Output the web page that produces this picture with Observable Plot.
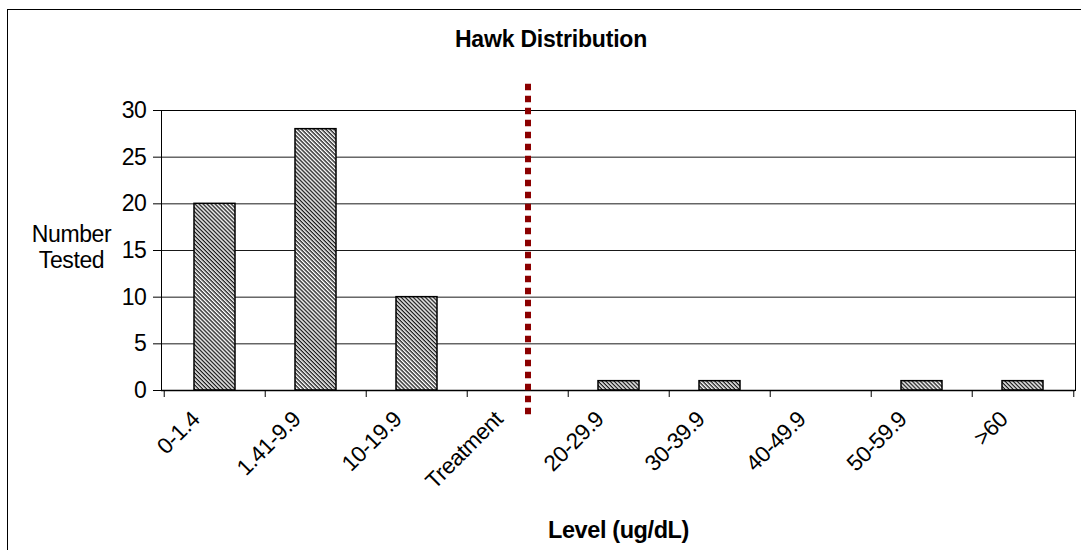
<!DOCTYPE html>
<html>
<head>
<meta charset="utf-8">
<script src="https://cdn.jsdelivr.net/npm/d3@7"></script>
<script src="https://cdn.jsdelivr.net/npm/@observablehq/plot@0.6"></script>
<style>
  html, body { margin: 0; padding: 0; background: #fff; }
  #chart { position: relative; width: 1081px; height: 550px; overflow: hidden; background: #fff;
           font-family: "Liberation Sans", Arial, sans-serif; color: #000; }
  #chart .border { position: absolute; left: 7px; top: 9px; width: 1200px; height: 700px;
                   border: 1.5px solid #000; box-sizing: border-box; }
  #chart .title { position: absolute; left: 8px; width: 1086px; top: 29px; text-align: center;
                  font-weight: bold; font-size: 23px; line-height: 21px; letter-spacing: -0.2px; }
  #chart svg { position: absolute; left: 0; top: 0; }
</style>
</head>
<body>
<div id="chart">
  <div class="border"></div>
  <div class="title"></div>
</div>
<script>
// Lead level bins and the number of hawks tested in each
const categories = ["0-1.4", "1.41-9.9", "10-19.9", "Treatment", "20-29.9", "30-39.9", "40-49.9", "50-59.9", ">60"];
const counts = [20, 28, 10, 0, 1, 1, 0, 1, 1];
const yTicks = [0, 5, 10, 15, 20, 25, 30];
const cutoffCategory = "Treatment";

const titleText = "Hawk Distribution";
const yLabel = "Number\nTested";
const xLabel = "Level (ug/dL)";

const data = categories.map((range, i) => ({range, count: counts[i]}));

const width = 1081, height = 550;
const marginLeft = 161, marginRight = 6, marginTop = 110, marginBottom = 160;
const step = (width - marginLeft - marginRight) / categories.length;

const svg = Plot.plot({
  width, height, marginLeft, marginRight, marginTop, marginBottom,
  style: {fontFamily: "'Liberation Sans', Arial, sans-serif", fontSize: "23px", color: "#000", background: "transparent", overflow: "visible", letterSpacing: "-0.4px"},
  x: {domain: categories, padding: 0, label: null},
  y: {domain: [0, 30], label: null},
  marks: [
    Plot.gridY(yTicks, {stroke: "#000", strokeOpacity: 0.9}),
    Plot.frame({stroke: "#000"}),
    Plot.barY(data, {
      x: "range", y: "count", filter: d => d.count > 0,
      fill: "url(#hatch)", stroke: "#000", strokeWidth: 1.5,
      insetLeft: 30, insetRight: 30
    }),
    Plot.axisY(yTicks, {tickSize: 8, tickPadding: 7, fontSize: 23, label: null}),
    Plot.axisX({tickSize: 0, tickRotate: -45, tickPadding: 25, dx: -19, fontSize: 22.5, label: null}),
    // category boundary ticks below the axis
    Plot.ruleX(categories, {x: d => d, y1: 0, y2: 0, insetBottom: -7, dx: -step / 2, stroke: "#000"}),
    Plot.ruleX(categories.slice(-1), {x: d => d, y1: 0, y2: 0, insetBottom: -7, dx: step / 2, stroke: "#000"}),
    Plot.ruleY([0], {stroke: "#000", strokeWidth: 1.5}),
    // treatment threshold marker
    Plot.ruleX([cutoffCategory], {x: d => d, y1: -2.6, y2: 32.9, dx: 10, stroke: "#8b0000", strokeWidth: 6, strokeDasharray: "6.5,5.5"}),
    Plot.text([yLabel], {text: d => d, frameAnchor: "left", dx: -90, dy: -4, lineHeight: 1.15, textAnchor: "middle", fontSize: 23}),
    Plot.text([xLabel], {text: d => d, frameAnchor: "bottom", dy: 147, fontWeight: "bold", fontSize: 23.5})
  ]
});

// diagonal hatch fill used by the bars
const defs = d3.select(svg).insert("defs", ":first-child");
const pat = defs.append("pattern")
  .attr("id", "hatch")
  .attr("patternUnits", "userSpaceOnUse")
  .attr("width", 8).attr("height", 2.85)
  .attr("patternTransform", "rotate(45)");
pat.append("rect").attr("width", 8).attr("height", 2.85).attr("fill", "#fff");
pat.append("rect").attr("width", 8).attr("height", 1.35).attr("fill", "#1a1a1a");

document.querySelector("#chart .title").textContent = titleText;
document.getElementById("chart").appendChild(svg);
</script>
</body>
</html>
